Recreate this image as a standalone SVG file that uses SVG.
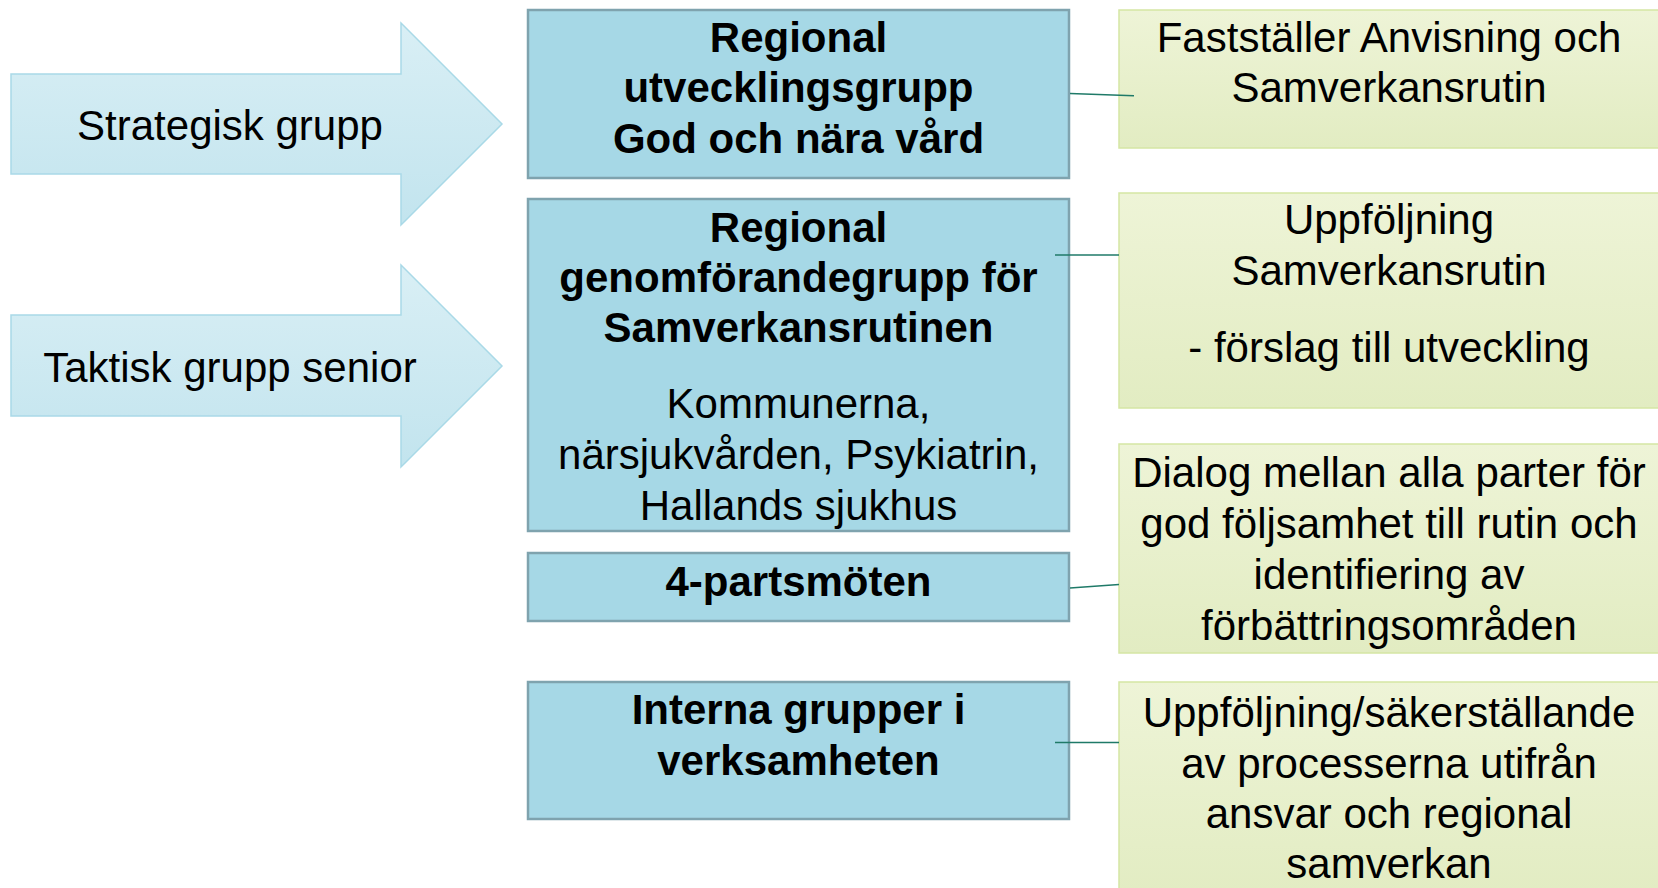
<svg xmlns="http://www.w3.org/2000/svg" width="1658" height="888" viewBox="0 0 1658 888">
<defs>
<linearGradient id="gArrow" x1="0" y1="0" x2="0" y2="1">
<stop offset="0" stop-color="#d9eff5"/>
<stop offset="1" stop-color="#c2e4ee"/>
</linearGradient>
<linearGradient id="gGreen" x1="0" y1="0" x2="0" y2="1">
<stop offset="0" stop-color="#eef4d7"/>
<stop offset="1" stop-color="#e2ecc2"/>
</linearGradient>
<style>
.arrow{fill:url(#gArrow);stroke:#a9d9e7;stroke-width:1.5}
.blue{fill:#a6d8e6;stroke:#7fa3ae;stroke-width:2.5}
.green{fill:url(#gGreen);stroke:#d5e6a4;stroke-width:1.5}
text{font-family:"Liberation Sans",Arial,sans-serif;font-size:42px;fill:#000;text-anchor:middle}
.b{font-weight:bold}
.conn{stroke:#1f7a68;stroke-width:1.6;fill:none}
</style>
</defs>
<rect width="1658" height="888" fill="#fff"/>

<g id="arrow-strategisk">
<polygon class="arrow" points="11,74 401,74 401,23 502,124 401,225 401,174 11,174"/>
<text x="230" y="140">Strategisk grupp</text>
</g>
<g id="arrow-taktisk">
<polygon class="arrow" points="11,315 401,315 401,265 502,366 401,467 401,416 11,416"/>
<text x="230" y="382">Taktisk grupp senior</text>
</g>

<g id="box-utveckling">
<rect class="blue" x="528" y="10" width="541" height="168"/>
<text class="b" x="798.5" y="52">Regional</text>
<text class="b" x="798.5" y="102">utvecklingsgrupp</text>
<text class="b" x="798.5" y="153">God och nära vård</text>
</g>
<g id="box-genomforande">
<rect class="blue" x="528" y="199" width="541" height="332"/>
<text class="b" x="798.5" y="242">Regional</text>
<text class="b" x="798.5" y="292">genomförandegrupp för</text>
<text class="b" x="798.5" y="342">Samverkansrutinen</text>
<text x="798.5" y="418">Kommunerna,</text>
<text x="798.5" y="469">närsjukvården, Psykiatrin,</text>
<text x="798.5" y="520">Hallands sjukhus</text>
</g>
<g id="box-4parts">
<rect class="blue" x="528" y="553" width="541" height="68"/>
<text class="b" x="798.5" y="596">4-partsmöten</text>
</g>
<g id="box-interna">
<rect class="blue" x="528" y="682" width="541" height="137"/>
<text class="b" x="798.5" y="724">Interna grupper i</text>
<text class="b" x="798.5" y="775">verksamheten</text>
</g>

<g id="note-faststaller">
<rect class="green" x="1119" y="10" width="545" height="138"/>
<text x="1389" y="52">Fastställer Anvisning och</text>
<text x="1389" y="102">Samverkansrutin</text>
</g>
<g id="note-uppfoljning">
<rect class="green" x="1119" y="193" width="545" height="215"/>
<text x="1389" y="234">Uppföljning</text>
<text x="1389" y="285">Samverkansrutin</text>
<text x="1389" y="362">- förslag till utveckling</text>
</g>
<g id="note-dialog">
<rect class="green" x="1119" y="444" width="545" height="209"/>
<text x="1389" y="487">Dialog mellan alla parter för</text>
<text x="1389" y="538">god följsamhet till rutin och</text>
<text x="1389" y="589">identifiering av</text>
<text x="1389" y="640">förbättringsområden</text>
</g>
<g id="note-sakerstallande">
<rect class="green" x="1119" y="682" width="545" height="215"/>
<text x="1389" y="727">Uppföljning/säkerställande</text>
<text x="1389" y="778">av processerna utifrån</text>
<text x="1389" y="828">ansvar och regional</text>
<text x="1389" y="878">samverkan</text>
</g>

<g id="connectors">
<line class="conn" x1="1070" y1="93.5" x2="1134" y2="95.7"/>
<line class="conn" x1="1055" y1="255" x2="1119" y2="255"/>
<line class="conn" x1="1070" y1="588" x2="1119" y2="584.5"/>
<line class="conn" x1="1055" y1="742.5" x2="1119" y2="742.5"/>
</g>
</svg>
